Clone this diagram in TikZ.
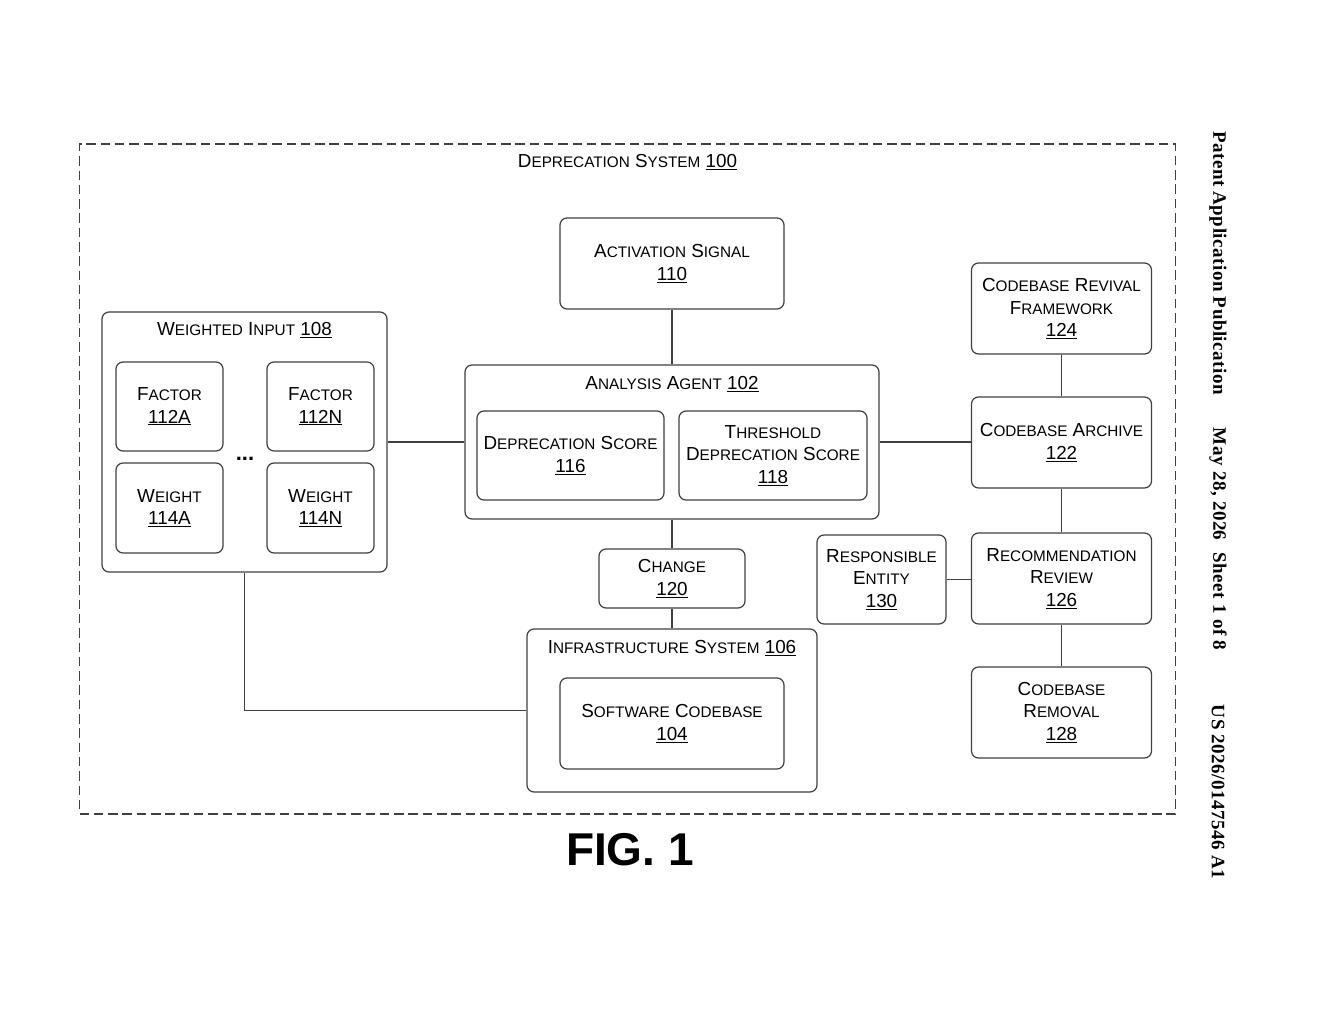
\documentclass[tikz,border=0pt]{standalone}
\usepackage{fontspec}
\setmainfont{Liberation Sans}
\newfontfamily\serifside[LetterSpace=2.6]{Liberation Serif}
\newcommand{\bg}[1]{{\fontsize{18.85}{22.6}\selectfont #1}}
\newcommand{\sm}[1]{{\fontsize{15.3}{22.6}\selectfont #1}}
\newcommand{\num}[1]{{\fontsize{18.85}{22.6}\selectfont\underline{#1}}}
\tikzset{
  x=1pt,y=-1pt,
  box/.style={draw=black!75,line width=1.2pt,rounded corners=7pt,inner sep=0pt,align=center,font=\fontsize{18.85}{22.6}\selectfont},
  lbl/.style={inner sep=0pt,align=center,font=\fontsize{18.85}{22.6}\selectfont},
  link/.style={draw=black!75,line width=1.2pt},
  side/.style={inner sep=0pt,rotate=-90,font=\serifside\bfseries\fontsize{19}{20}\selectfont}
}
\begin{document}
\begin{tikzpicture}
\useasboundingbox[fill=white] (0,0) rectangle (1320,1024);
\node[draw=black!75,line width=1.1pt,dash pattern=on 9.5pt off 4.8pt,minimum width=1096pt,minimum height=670pt,inner sep=0pt] (sys) at (627.5,479) {};
\node[lbl] (syslbl) at (627.5,162) {\bg{D}\sm{EPRECATION} \bg{S}\sm{YSTEM} \num{100}};

\node[box,minimum width=224pt,minimum height=91pt] (act) at (672,263.5) {\bg{A}\sm{CTIVATION} \bg{S}\sm{IGNAL}\\\num{110}};

\node[box,minimum width=285pt,minimum height=260pt] (wi) at (244.5,442) {};
\node[lbl] (wilbl) at (244.5,330) {\bg{W}\sm{EIGHTED} \bg{I}\sm{NPUT} \num{108}};
\node[box,minimum width=107pt,minimum height=89pt] (fa) at (169.5,406.5) {\bg{F}\sm{ACTOR}\\\num{112A}};
\node[box,minimum width=107pt,minimum height=89pt] (fn) at (320.5,406.5) {\bg{F}\sm{ACTOR}\\\num{112N}};
\node[box,minimum width=107pt,minimum height=90pt] (wa) at (169.5,508) {\bg{W}\sm{EIGHT}\\\num{114A}};
\node[box,minimum width=107pt,minimum height=90pt] (wn) at (320.5,508) {\bg{W}\sm{EIGHT}\\\num{114N}};
\node[lbl,font=\bfseries\fontsize{22}{22}\selectfont] (dots) at (245,459) {...};

\node[box,minimum width=414pt,minimum height=154pt] (aa) at (672,442) {};
\node[lbl] (aalbl) at (672,384) {\bg{A}\sm{NALYSIS} \bg{A}\sm{GENT} \num{102}};
\node[box,minimum width=187pt,minimum height=89pt] (ds) at (570.5,455.5) {\bg{D}\sm{EPRECATION} \bg{S}\sm{CORE}\\\num{116}};
\node[box,minimum width=188pt,minimum height=89pt] (ts) at (773,455.5) {\bg{T}\sm{HRESHOLD}\\\bg{D}\sm{EPRECATION} \bg{S}\sm{CORE}\\\num{118}};

\node[box,minimum width=146pt,minimum height=59pt] (ch) at (672,578.5) {\bg{C}\sm{HANGE}\\\num{120}};

\node[box,minimum width=290pt,minimum height=163pt] (inf) at (672,710.5) {};
\node[lbl] (inflbl) at (672,648) {\bg{I}\sm{NFRASTRUCTURE} \bg{S}\sm{YSTEM} \num{106}};
\node[box,minimum width=224pt,minimum height=91pt] (sw) at (672,723.5) {\bg{S}\sm{OFTWARE} \bg{C}\sm{ODEBASE}\\\num{104}};

\node[box,minimum width=180pt,minimum height=91pt] (rev) at (1061.5,308.5) {\bg{C}\sm{ODEBASE} \bg{R}\sm{EVIVAL}\\\bg{F}\sm{RAMEWORK}\\\num{124}};
\node[box,minimum width=180pt,minimum height=91pt] (arc) at (1061.5,442.5) {\bg{C}\sm{ODEBASE} \bg{A}\sm{RCHIVE}\\\num{122}};
\node[box,minimum width=180pt,minimum height=91pt] (rec) at (1061.5,578.5) {\bg{R}\sm{ECOMMENDATION}\\\bg{R}\sm{EVIEW}\\\num{126}};
\node[box,minimum width=180pt,minimum height=91pt] (rem) at (1061.5,712.5) {\bg{C}\sm{ODEBASE}\\\bg{R}\sm{EMOVAL}\\\num{128}};
\node[box,minimum width=129pt,minimum height=89pt] (re) at (881.5,579.5) {\bg{R}\sm{ESPONSIBLE}\\\bg{E}\sm{NTITY}\\\num{130}};

\draw[link] (wi) -- (aa);
\draw[link] (act) -- (aa);
\draw[link] (aa.east) -- (aa.east -| arc.west);
\draw[link] (aa) -- (ch);
\draw[link] (ch) -- (inf);
\draw[link] (wi.south) |- (inf.west);
\draw[link] (rev) -- (arc);
\draw[link] (arc) -- (rec);
\draw[link] (rec) -- (rem);
\draw[link] (re.east) -- (re.east -| rec.west);

\node[inner sep=0pt,font=\bfseries\fontsize{46}{50}\selectfont] (fig) at (630,850) {FIG. 1};
\node[side] (s1) at (1218,263) {Patent Application Publication};
\node[side] (s2) at (1218,539) {May 28, 2026\hspace{7pt} Sheet 1 of 8};
\node[side] (s3) at (1218,792) {US 2026/0147546 A1};
\end{tikzpicture}
\end{document}
